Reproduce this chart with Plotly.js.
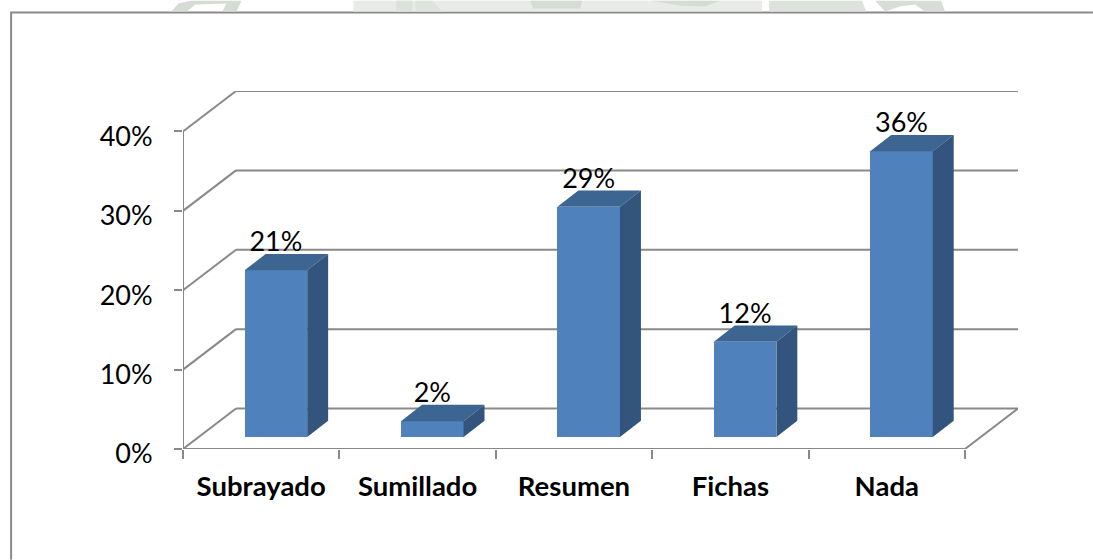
<!DOCTYPE html>
<html>
<head>
<meta charset="utf-8">
<script src="https://cdn.plot.ly/plotly-3.0.1.min.js"></script>
<style>html,body{margin:0;padding:0;background:#fff;overflow:hidden}#chart{width:1093px;height:560px}</style>
</head>
<body>
<div id="chart"></div>
<script>
const categories = ["Subrayado", "Sumillado", "Resumen", "Fichas", "Nada"];
const values = [21, 2, 29, 12, 36];
const yTicks = [0, 10, 20, 30, 40];

// pseudo-3D projection, in axis units
const wallDx = 0.339, wallDy = 5.1;    // floor depth
const barDx = 0.134, barDy = 2.05;     // bar depth
const barLift = 1.51, barShift = 0.094; // bar position on the floor
const barWidth = 0.4;

const W = 1093, H = 560;
const M = {l: 182.5, r: 75, t: 90.5, b: 111};
const GRID = "#898989", FRONT = "#4f81bd", TOP = "#3d6591", SIDE = "#33547c";

const px = (x, y) => [(x - M.l) / (W - M.l - M.r), 1 - (y - M.t) / (H - M.t - M.b)];
const seg = (x0, y0, x1, y1) => ({type: "line", xref: "x", yref: "y", layer: "below", x0, y0, x1, y1,
  line: {color: GRID, width: 2}});

const shapes = [];
// walls and floor
yTicks.forEach(v => {
  shapes.push(seg(0, v, wallDx, v + wallDy));
  shapes.push(seg(wallDx, v + wallDy, categories.length + wallDx, v + wallDy));
});
shapes.push(seg(0, 0, 0, yTicks[yTicks.length - 1]));
shapes.push(seg(0, 0, categories.length, 0));
shapes.push(seg(categories.length, 0, categories.length + wallDx, wallDy));

// page frame
const framePath = (pts, close) => pts.map((p, i) => {
  const q = px(p[0], p[1]);
  return (i ? "L" : "M") + q[0] + "," + q[1];
}).join(" ") + (close ? " Z" : "");
shapes.push({type: "path", xref: "paper", yref: "paper", layer: "below",
  path: framePath([[10.5, 560], [10.5, 12], [1093, 12]]), line: {color: "#8a8a8a", width: 2}});

// faint background image fragments above the frame
const frags = [
  [[[171, 11], [178, 3], [190, 0], [241, 0], [236, 11], [222, 11], [226, 3], [195, 4], [186, 11]], "#d5dcd4"],
  [[[353, 0], [762, 0], [762, 11], [353, 11]], "#e8ebe8"],
  [[[396, 0], [412, 0], [412, 11], [396, 11]], "#dde1dc"],
  [[[415, 0], [432, 0], [442, 11], [415, 11]], "#dfe3de"],
  [[[530, 0], [582, 0], [580, 8], [533, 8]], "#d6dbd5"],
  [[[650, 0], [720, 0], [705, 6], [680, 5]], "#d6dbd5"],
  [[[769, 0], [862, 0], [866, 11], [769, 11]], "#dde2dc"],
  [[[875, 0], [941, 0], [945, 11], [925, 11], [915, 4], [900, 6], [885, 11]], "#d8ded7"]
];
frags.forEach(f => shapes.push({type: "path", xref: "paper", yref: "paper", layer: "below",
  path: framePath(f[0], true), fillcolor: f[1], line: {width: 0}}));

// bars
const centers = categories.map((_, i) => i + 0.5);
const barX = centers.map(c => c + barShift);
const poly = (build) => {
  const xs = [], ys = [];
  values.forEach((v, i) => {
    build(barX[i] - barWidth / 2, barX[i] + barWidth / 2, barLift, barLift + v).forEach(p => {
      xs.push(p[0]); ys.push(p[1]);
    });
    xs.push(null); ys.push(null);
  });
  return {xs, ys};
};
const topFace = poly((l, r, b, t) => [[l, t], [r, t], [r + barDx, t + barDy], [l + barDx, t + barDy], [l, t]]);
const sideFace = poly((l, r, b, t) => [[r, b], [r + barDx, b + barDy], [r + barDx, t + barDy], [r, t], [r, b]]);

const traces = [
  {type: "bar", x: barX, y: values, base: values.map(() => barLift), width: barWidth,
   marker: {color: FRONT, line: {width: 0}}, hoverinfo: "skip", showlegend: false},
  {type: "scatter", mode: "lines", x: topFace.xs, y: topFace.ys, fill: "toself", fillcolor: TOP,
   line: {width: 0, color: TOP}, hoverinfo: "skip", showlegend: false},
  {type: "scatter", mode: "lines", x: sideFace.xs, y: sideFace.ys, fill: "toself", fillcolor: SIDE,
   line: {width: 0, color: SIDE}, hoverinfo: "skip", showlegend: false},
  {type: "scatter", mode: "text", x: barX, y: values.map(v => v + barLift + barDy - 0.5),
   text: values.map(v => v + "%"), textposition: "top center",
   textfont: {family: "Lato, sans-serif", size: 27, color: "#000"},
   cliponaxis: false, hoverinfo: "skip", showlegend: false}
];

const layout = {
  width: W, height: H, autosize: false,
  margin: M, paper_bgcolor: "#fff", plot_bgcolor: "rgba(0,0,0,0)",
  showlegend: false, bargap: 0,
  xaxis: {
    type: "linear", range: [0, categories.length + wallDx], tickmode: "array",
    tickvals: centers, ticktext: categories, ticks: "", showgrid: false, zeroline: false, showline: false,
    tickfont: {family: "Lato, sans-serif", size: 27.5, color: "#000", weight: 700},
    ticklabelstandoff: 18,
    minor: {tickmode: "array", tickvals: categories.map((_, i) => i).concat([categories.length]),
            ticks: "outside", ticklen: 9, tickwidth: 2, tickcolor: GRID, showgrid: false}
  },
  yaxis: {
    range: [0, yTicks[yTicks.length - 1] + wallDy], tickmode: "array", tickvals: yTicks,
    ticktext: yTicks.map(v => v + "%"), ticks: "outside", ticklen: 8, tickwidth: 2, tickcolor: GRID,
    showgrid: false, zeroline: false, showline: false,
    tickfont: {family: "Lato, sans-serif", size: 27, color: "#000"},
    ticklabelstandoff: 16, ticklabelshift: 5
  },
  shapes
};
Plotly.newPlot("chart", traces, layout, {displayModeBar: false, staticPlot: true});
</script>
</body>
</html>
